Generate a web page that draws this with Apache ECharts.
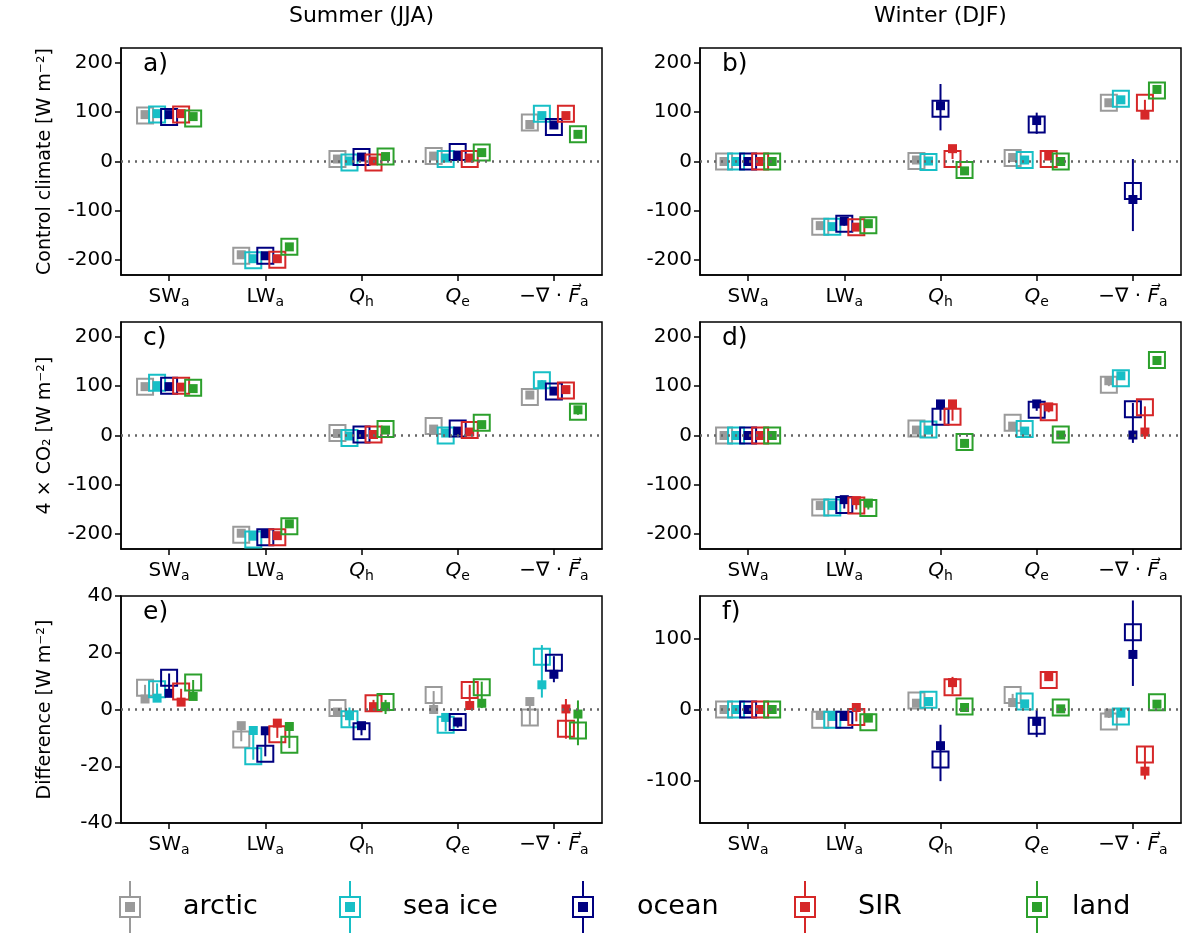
<!DOCTYPE html>
<html>
<head>
<meta charset="utf-8">
<script src="https://cdn.jsdelivr.net/npm/echarts@6/dist/echarts.min.js"></script>
<style>html,body{margin:0;background:#fff}#chart{width:1200px;height:952px}</style>
</head>
<body>
<div id="chart"></div>
<script>
const categories = ["SWa", "LWa", "Qh", "Qe", "divF"];
const groups = ["arctic", "sea ice", "ocean", "SIR", "land"];
const colors = ["#9a9a9a", "#17bfc6", "#000080", "#d62728", "#2ca02c"];
const offsets = [-0.25, -0.125, 0, 0.125, 0.25];
const N = null;

// rows = categories, columns = groups (arctic, sea ice, ocean, SIR, land)
const aOpen = [[93, 95, 90, 95, 87], [-191, -200, -191, -199, -173], [5, -2, 9, -2, 10], [11, 5, 19, 5, 18], [79, 97, 70, 97, 55]];
const aFill = [[95, 97, 95, 97, 91], [-189, -197, -191, -197, -173], [5, 1, 9, 1, 10], [11, 7, 13, 7, 18], [75, 93, 74, 93, 55]];
const aLo = [[N, N, N, N, N], [N, N, N, N, N], [N, N, N, N, N], [N, N, N, N, N], [N, 90, 68, 90, N]];
const aHi = [[N, N, N, N, N], [N, N, N, N, N], [N, N, N, N, N], [N, N, N, N, N], [N, 98, 78, 99, N]];

const bOpen = [[0, 0, 0, 0, 0], [-132, -132, -126, -133, -129], [1, -1, 107, 5, -17], [7, 3, 75, 5, 0], [119, 127, -60, 119, 144]];
const bFill = [[0, 0, 0, 0, 0], [-130, -132, -121, -133, -126], [3, 1, 113, 26, -19], [8, 3, 83, 11, 0], [119, 125, -77, 94, 146]];
const bLo = [[N, N, N, N, N], [N, N, -130, N, N], [N, N, 63, 5, N], [N, N, 56, N, N], [N, N, -141, 94, N]];
const bHi = [[N, N, N, N, N], [N, N, -119, N, N], [N, N, 157, 28, N], [N, N, 99, N, N], [N, N, 5, 125, N]];

const cOpen = [[99, 107, 101, 101, 97], [-201, -211, -206, -206, -184], [5, -5, 2, 2, 13], [19, 0, 14, 11, 26], [78, 112, 89, 91, 48]];
const cFill = [[99, 101, 99, 98, 95], [-198, -204, -199, -203, -179], [4, -1, 2, 2, 11], [13, 5, 9, 7, 22], [82, 103, 90, 93, 52]];
const cLo = [[N, N, N, N, N], [-204, -212, -206, -208, -184], [N, N, N, N, N], [N, N, N, N, N], [N, 98, N, N, 42]];
const cHi = [[N, N, N, N, N], [-196, -200, -197, -200, -177], [N, N, N, N, N], [N, N, N, N, N], [N, 112, N, N, 55]];

const dOpen = [[0, 0, 0, 0, 0], [-146, -146, -141, -142, -147], [14, 12, 38, 38, -13], [26, 13, 52, 47, 2], [103, 116, 53, 57, 153]];
const dFill = [[0, 0, 0, 0, 0], [-142, -142, -130, -132, -137], [11, 11, 64, 64, -16], [19, 9, 64, 58, 1], [111, 121, 1, 7, 152]];
const dLo = [[N, N, N, N, N], [-150, -150, -148, -150, -150], [N, N, 30, 30, N], [N, N, 50, 47, N], [100, N, -15, -7, N]];
const dHi = [[N, N, N, N, N], [-138, -138, -126, -128, -133], [N, N, 68, 68, N], [N, N, 68, 62, N], [114, N, 66, 59, N]];

const eOpen = [[7.7, 7.1, 11.2, 6.3, 9.5], [-10.6, -16.5, -15.6, -8.7, -12.4], [0.5, -3.4, -7.7, 2.2, 2.6], [5.1, -5.4, -4.4, 6.9, 7.8], [-2.8, 18.6, 16.5, -6.8, -7.4]];
const eFill = [[3.7, 4, 5.7, 2.6, 4.6], [-5.7, -7.4, -7.5, -4.8, -6], [-0.9, -2.2, -5.7, 1, 1], [0, -2.8, -4.4, 1.4, 2.2], [2.8, 8.7, 12.4, 0.2, -1.6]];
const eLo = [[3.7, 4, 5.4, 2.6, 4.6], [-11.2, -17.7, -16.5, -10, -13.6], [N, -6, -9.1, 0, -1.6], [0, -7.7, -6.4, 1.4, 0.5], [-5.4, 4.2, 9.6, -10.3, -12.6]];
const eHi = [[8.7, 9.2, 12.7, 7.3, 10.4], [-5.7, -6, -7.5, -4.4, -5.4], [N, 0.7, -5.4, 3.4, 3.4], [6.5, -2.5, -3.3, 8.7, 9.8], [3, 22.7, 18.8, 3.7, 3.2]];

const fOpen = [[0, 0, 0, 0, 0], [-14.5, -14.5, -14.5, -10.7, -17.8], [12.6, 13.6, -70.6, 31.3, 4.2], [20.6, 11.2, -22.9, 41.6, 2.8], [-16.8, -9.8, 109, -63.6, 10.3]];
const fFill = [[0, 0, 0, 0, 0], [-8.4, -9.8, -9.8, 2.8, -12.1], [8.9, 11.2, -51, 37.9, 2.8], [9.8, 7.9, -16.8, 46.3, 0.9], [-5.1, -5.1, 77.6, -86.9, 7.5]];
const fLo = [[N, N, N, N, N], [-14, N, N, -16.8, N], [N, N, -101, 21.5, N], [8, N, -39, N, N], [-12, N, 33.2, -98.6, N]];
const fHi = [[N, N, N, N, N], [-6, N, N, 7.5, N], [N, N, -21.5, 46, N], [22, N, -0.5, N, N], [-3, N, 153.7, -51.9, N]];

const yLimits = [[-230, 230], [-230, 230], [-230, 230], [-230, 230], [-40, 40], [-160, 160]];
const yTicks = [[-200, -100, 0, 100, 200], [-200, -100, 0, 100, 200], [-200, -100, 0, 100, 200], [-200, -100, 0, 100, 200], [-40, -20, 0, 20, 40], [-100, 0, 100]];
const yNames = ["Control climate [W m⁻²]", "", "4 × CO₂ [W m⁻²]", "", "Difference [W m⁻²]", ""];
const panelLetters = ["a)", "b)", "c)", "d)", "e)", "f)"];

const panels = [
  [aOpen, aFill, aLo, aHi], [bOpen, bFill, bLo, bHi],
  [cOpen, cFill, cLo, cHi], [dOpen, dFill, dLo, dHi],
  [eOpen, eFill, eLo, eHi], [fOpen, fFill, fLo, fHi],
];

const FONT = "DejaVu Sans";
const lefts = [121, 700];
const tops = [48, 322, 596];
const W = 481, H = 227;

const xLabels = {
  0: "SW{sub|a}", 1: "LW{sub|a}", 2: "{i|Q}{sub|h}", 3: "{i|Q}{sub|e}", 4: "−∇ · {i|F⃗}{sub|a}",
};

const grids = [], xAxes = [], yAxes = [], series = [], graphics = [];

panels.forEach((p, k) => {
  const col = k % 2, row = Math.floor(k / 2);
  grids.push({ left: lefts[col], top: tops[row], width: W, height: H, show: true, borderColor: "#000", borderWidth: 1.5, backgroundColor: "transparent" });
  xAxes.push({
    gridIndex: k, type: "value", min: -0.5, max: 4.5,
    splitLine: { show: false },
    axisLine: { onZero: false, lineStyle: { color: "#000", width: 1.5 } },
    axisTick: { customValues: [0, 1, 2, 3, 4], length: 6, lineStyle: { color: "#000", width: 1.5 } },
    axisLabel: {
      customValues: [0, 1, 2, 3, 4], margin: 10, color: "#000", fontSize: 20, fontFamily: FONT,
      formatter: (v) => xLabels[Math.round(v)],
      rich: {
        sub: { fontSize: 14, fontFamily: FONT, color: "#000", padding: [10, 0, 0, 0] },
        i: { fontSize: 20, fontStyle: "italic", fontFamily: FONT, color: "#000" },
      },
    },
  });
  yAxes.push({
    gridIndex: k, type: "value", min: yLimits[k][0], max: yLimits[k][1],
    name: yNames[k], nameLocation: "middle", nameGap: 66, nameRotate: 90,
    nameTextStyle: { fontSize: 19, fontFamily: FONT, color: "#000" },
    splitLine: { show: false },
    axisLine: { onZero: false, lineStyle: { color: "#000", width: 1.5 } },
    axisTick: { customValues: yTicks[k], length: 6, lineStyle: { color: "#000", width: 1.5 } },
    axisLabel: { customValues: yTicks[k], color: "#000", fontSize: 20, fontFamily: FONT, margin: 8 },
  });
  series.push({
    type: "line", xAxisIndex: k, yAxisIndex: k, symbol: "none", silent: true,
    data: [[-0.5, 0], [4.5, 0]],
    lineStyle: { color: "#666", width: 2.5, type: [2, 5] },
  });
  const [open, fill, lo, hi] = p;
  groups.forEach((g, j) => {
    const errs = [];
    categories.forEach((c, i) => {
      if (lo[i][j] !== null) errs.push([i + offsets[j], lo[i][j], hi[i][j]]);
    });
    series.push({
      type: "custom", name: g, xAxisIndex: k, yAxisIndex: k, silent: true,
      encode: { x: 0, y: [1, 2] },
      data: errs,
      renderItem(params, api) {
        const a = api.coord([api.value(0), api.value(1)]);
        const b = api.coord([api.value(0), api.value(2)]);
        return { type: "line", shape: { x1: a[0], y1: a[1], x2: b[0], y2: b[1] }, style: { stroke: colors[j], lineWidth: 2 } };
      },
    });
    series.push({
      type: "scatter", name: g, xAxisIndex: k, yAxisIndex: k, silent: true,
      symbol: "rect", symbolSize: 16,
      itemStyle: { color: "rgba(0,0,0,0)", borderColor: colors[j], borderWidth: 2, opacity: 1 },
      data: categories.map((c, i) => [i + offsets[j], open[i][j]]),
    });
    series.push({
      type: "scatter", name: g, xAxisIndex: k, yAxisIndex: k, silent: true,
      symbol: "rect", symbolSize: 9,
      itemStyle: { color: colors[j], opacity: 1 },
      data: categories.map((c, i) => [i + offsets[j], fill[i][j]]),
    });
  });
  graphics.push({
    type: "text", left: lefts[col] + 22, top: tops[row] + 4,
    style: { text: panelLetters[k], fontSize: 25, fontFamily: FONT, fill: "#000" },
  });
});

graphics.push({ type: "text", x: lefts[0] + W / 2, y: 5, style: { text: "Summer (JJA)", fontSize: 22, fontFamily: FONT, fill: "#000", align: "center" } });
graphics.push({ type: "text", x: lefts[1] + W / 2, y: 5, style: { text: "Winter (DJF)", fontSize: 22, fontFamily: FONT, fill: "#000", align: "center" } });

// legend
const legendIconX = [130, 350, 583, 805, 1037];
const legendTextX = [183, 403, 637, 858, 1072];
groups.forEach((g, j) => {
  const cx = legendIconX[j], cy = 907;
  graphics.push({ type: "line", shape: { x1: cx, y1: cy - 26, x2: cx, y2: cy + 26 }, style: { stroke: colors[j], lineWidth: 2 } });
  graphics.push({ type: "rect", shape: { x: cx - 10, y: cy - 10, width: 20, height: 20 }, style: { fill: "#fff", stroke: colors[j], lineWidth: 2 } });
  graphics.push({ type: "rect", shape: { x: cx - 5, y: cy - 5, width: 10, height: 10 }, style: { fill: colors[j] } });
  graphics.push({ type: "text", x: legendTextX[j], y: cy, style: { text: g, fontSize: 27, fontFamily: FONT, fill: "#000", verticalAlign: "middle" } });
});

const chart = echarts.init(document.getElementById("chart"));
chart.setOption({
  animation: false,
  grid: grids, xAxis: xAxes, yAxis: yAxes, series: series, graphic: graphics,
});
</script>
</body>
</html>
